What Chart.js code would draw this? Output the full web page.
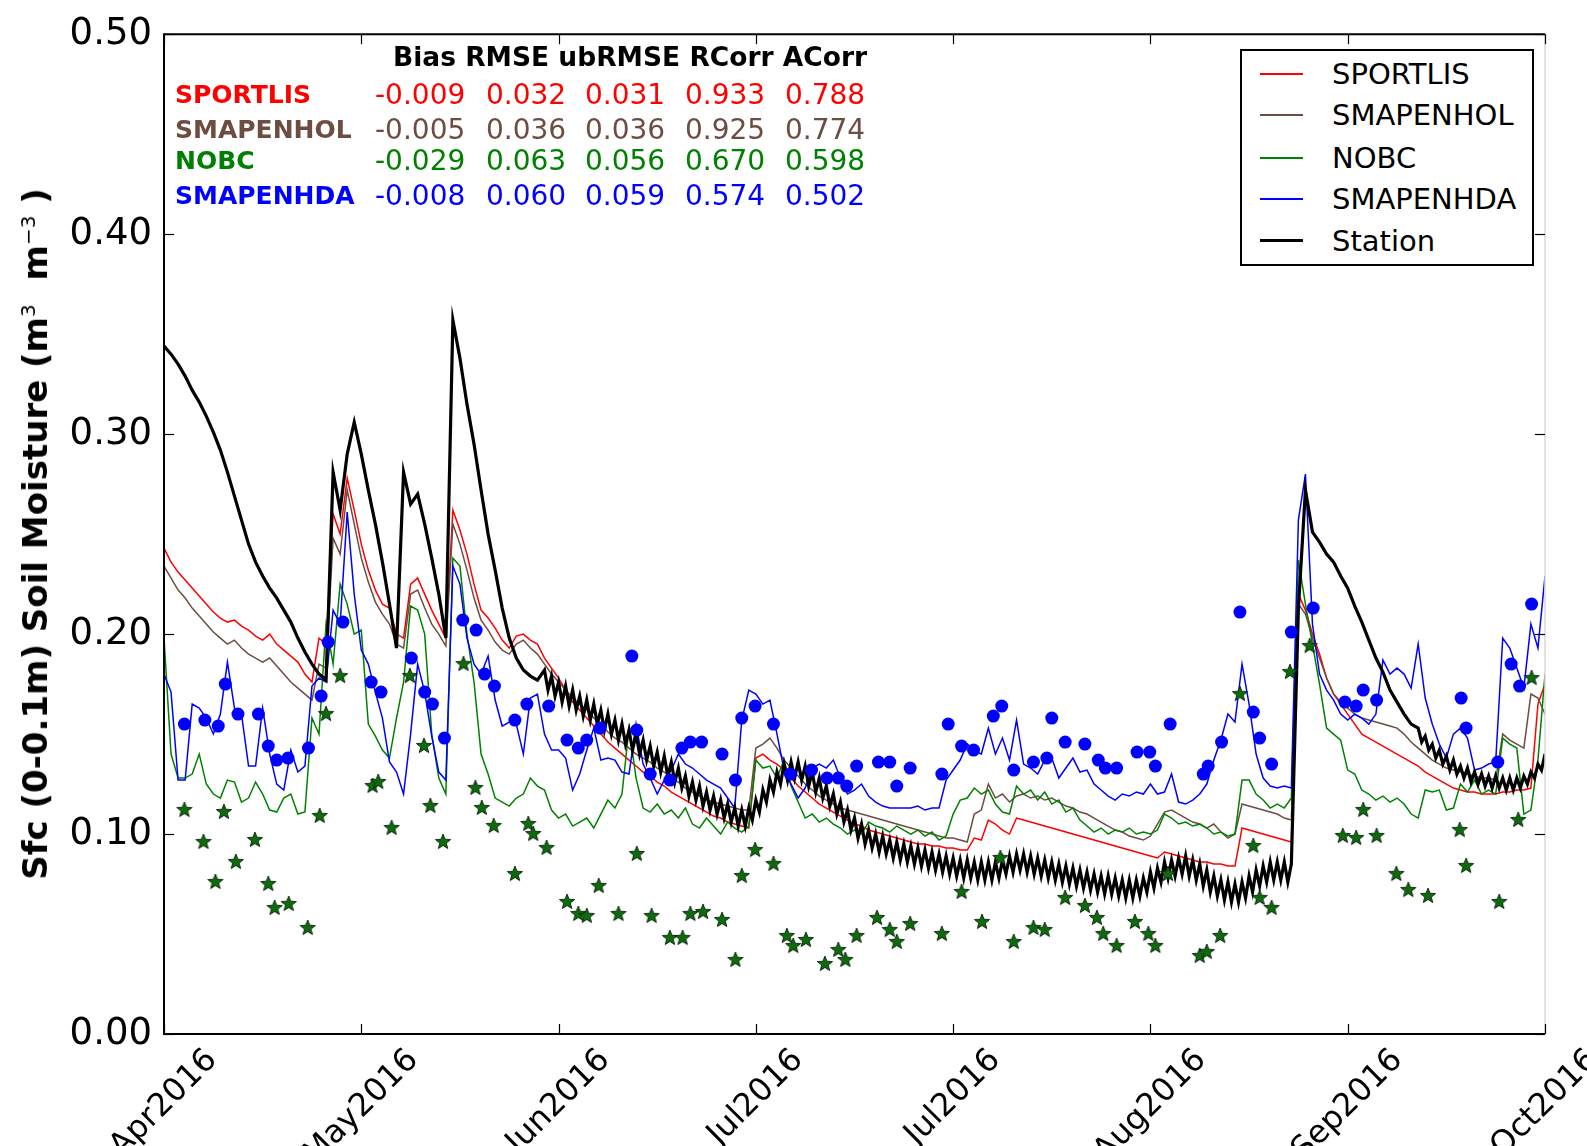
<!DOCTYPE html>
<html>
<head>
<meta charset="utf-8">
<script src="https://cdn.jsdelivr.net/npm/chart.js@4.4.1/dist/chart.umd.min.js"></script>
<style>
  body { margin: 0; background: #fff; font-family: "DejaVu Sans", sans-serif; }
  #wrap { position: relative; width: 1587px; height: 1146px; overflow: hidden; }
  #c { position: absolute; left: 0; top: 0; }
  .t { position: absolute; white-space: nowrap; line-height: 1; transform: translateY(-50%); }
  #ytitle {
    position: absolute; left: 35px; top: 534px; white-space: nowrap;
    transform: translate(-50%, -50%) rotate(-90deg);
    font: bold 34px "DejaVu Sans", sans-serif; color: #000;
  }
  #ytitle sup { font-size: 20px; font-weight: normal; }
  #legend {
    position: absolute; left: 1240px; top: 49px; width: 294px; height: 217px;
    box-sizing: border-box; border: 2px solid #000; background: #fff;
  }
  .lrow { position: absolute; left: 0; height: 0; }
  .lline { position: absolute; left: 18px; width: 43px; }
  .ltext { position: absolute; left: 90px; font-size: 29px; line-height: 1; transform: translateY(-50%); white-space: nowrap; }
</style>
</head>
<body>
<div id="wrap">
  <canvas id="c" width="1587" height="1146"></canvas>
  <div id="ytitle">Sfc (0-0.1m) Soil Moisture (m<sup>3</sup>&nbsp; m<sup>&minus;3</sup>&nbsp;)</div>
  <div id="stats"></div>
  <div id="legend"></div>
</div>
<script>
// x axis: days since start, ticks every 28 days
const xTickDays = [0, 28, 56, 84, 112, 140, 168, 196];
const xTickLabels = ["Apr2016", "May2016", "Jun2016", "Jul2016", "Jul2016", "Aug2016", "Sep2016", "Oct2016"];
const yTickVals = [0, 0.1, 0.2, 0.3, 0.4, 0.5];

// daily values, day 0 .. 196
const sportlis = [
  .243,.236,.231,.227,.223,.219,.215,.211,.208,.206,
  .207,.204,.202,.199,.197,.200,.195,.192,.189,.186,
  .180,.176,.198,.195,.260,.250,.278,.262,.245,.232,
  .222,.215,.213,.200,.198,.225,.228,.220,.212,.205,
  .198,.262,.252,.240,.225,.212,.208,.203,.197,.193,
  .199,.200,.197,.195,.188,.183,.178,.172,.166,.162,
  .158,.154,.150,.146,.143,.140,.137,.134,.131,.129,
  .126,.124,.121,.119,.117,.115,.113,.111,.109,.108,
  .106,.105,.104,.103,.138,.140,.137,.135,.132,.128,
  .124,.121,.118,.115,.113,.111,.109,.107,.105,.104,
  .102,.101,.100,.099,.098,.097,.096,.095,.095,.094,
  .094,.093,.093,.092,.092,.098,.097,.107,.105,.102,
  .100,.108,.107,.106,.105,.104,.103,.102,.101,.100,
  .099,.098,.097,.096,.095,.094,.093,.092,.091,.090,
  .089,.088,.091,.090,.089,.088,.087,.086,.086,.085,
  .085,.084,.084,.103,.102,.101,.100,.099,.098,.097,
  .096,.220,.212,.200,.190,.178,.170,.165,.160,.155,
  .150,.148,.146,.144,.142,.140,.138,.136,.134,.131,
  .129,.127,.125,.123,.122,.121,.121,.120,.120,.120,
  .121,.121,.122,.122,.123,.165,.175
];
const smapenhol = [
  .234,.228,.222,.218,.213,.209,.205,.201,.198,.195,
  .197,.193,.190,.188,.186,.188,.184,.180,.176,.173,
  .170,.167,.185,.183,.248,.240,.272,.255,.238,.226,
  .216,.210,.205,.195,.193,.220,.222,.213,.205,.200,
  .194,.255,.245,.232,.218,.207,.202,.196,.192,.190,
  .195,.197,.193,.190,.185,.180,.176,.172,.168,.165,
  .162,.158,.155,.151,.148,.146,.143,.140,.138,.136,
  .133,.131,.128,.126,.123,.121,.119,.117,.116,.115,
  .114,.113,.112,.112,.143,.145,.148,.143,.137,.133,
  .129,.125,.122,.119,.117,.115,.113,.112,.111,.110,
  .109,.108,.107,.106,.105,.104,.103,.102,.101,.100,
  .099,.098,.098,.097,.096,.110,.112,.125,.118,.120,
  .116,.119,.120,.118,.119,.117,.118,.116,.114,.113,
  .111,.110,.108,.106,.104,.102,.101,.099,.098,.097,
  .099,.105,.111,.112,.110,.108,.106,.105,.103,.105,
  .101,.098,.100,.115,.114,.113,.112,.111,.110,.108,
  .107,.215,.210,.198,.188,.178,.170,.166,.163,.160,
  .158,.157,.156,.155,.154,.153,.150,.146,.143,.140,
  .137,.135,.133,.132,.131,.130,.129,.128,.128,.127,
  .150,.147,.145,.143,.170,.168,.160
];
const nobc = [
  .198,.140,.128,.128,.130,.140,.125,.120,.118,.127,
  .126,.116,.118,.126,.120,.112,.111,.118,.120,.110,
  .111,.158,.150,.205,.185,.225,.215,.200,.202,.155,
  .149,.142,.138,.158,.176,.214,.212,.200,.150,.128,
  .120,.238,.234,.200,.176,.140,.130,.118,.116,.114,
  .118,.120,.128,.124,.122,.112,.108,.110,.104,.106,
  .108,.103,.110,.117,.113,.120,.153,.128,.113,.111,
  .115,.110,.112,.108,.113,.105,.103,.108,.104,.100,
  .106,.103,.101,.104,.137,.133,.134,.128,.137,.124,
  .116,.108,.110,.106,.108,.105,.103,.100,.102,.100,
  .106,.104,.103,.101,.104,.102,.100,.102,.099,.101,
  .097,.099,.110,.117,.118,.123,.120,.122,.115,.111,
  .110,.124,.120,.122,.117,.121,.115,.117,.111,.113,
  .107,.104,.101,.103,.100,.102,.101,.103,.100,.101,
  .100,.102,.110,.108,.105,.106,.104,.105,.103,.100,
  .101,.099,.100,.127,.127,.120,.117,.113,.115,.113,
  .118,.237,.215,.195,.175,.153,.150,.147,.132,.130,
  .122,.120,.117,.119,.116,.118,.115,.110,.108,.122,
  .121,.122,.112,.113,.125,.121,.127,.120,.122,.120,
  .148,.145,.143,.110,.112,.137,.180
];
const smapenhda = [
  .180,.171,.127,.127,.165,.163,.158,.150,.160,.186,
  .163,.160,.134,.134,.163,.140,.125,.122,.142,.131,
  .134,.174,.178,.176,.212,.205,.261,.220,.192,.185,
  .171,.158,.136,.131,.120,.150,.185,.171,.149,.131,
  .127,.234,.225,.198,.185,.180,.189,.167,.154,.156,
  .155,.140,.168,.170,.150,.142,.142,.138,.122,.130,
  .142,.153,.137,.138,.137,.131,.130,.155,.135,.128,
  .120,.127,.132,.140,.135,.133,.130,.127,.125,.123,
  .118,.113,.157,.172,.170,.165,.167,.150,.132,.125,
  .118,.123,.133,.135,.133,.137,.128,.120,.122,.125,
  .119,.116,.114,.113,.113,.113,.113,.114,.112,.113,
  .113,.127,.132,.137,.145,.142,.140,.153,.140,.148,
  .137,.157,.135,.133,.130,.137,.138,.128,.133,.138,
  .131,.132,.125,.122,.119,.117,.120,.119,.121,.120,
  .125,.120,.121,.130,.116,.115,.117,.120,.125,.137,
  .147,.160,.156,.185,.165,.140,.128,.124,.123,.124,
  .123,.257,.280,.205,.180,.172,.167,.160,.157,.160,
  .158,.155,.160,.187,.180,.183,.180,.173,.195,.168,
  .155,.145,.138,.150,.153,.148,.132,.133,.135,.136,
  .198,.193,.183,.173,.205,.193,.229
];
// station: daily (daytime) readings, day 0 .. 196
const stationDay = [
  .344,.340,.335,.329,.322,.316,.309,.301,.292,.281,
  .269,.257,.245,.236,.229,.223,.218,.212,.206,.198,
  .191,.185,.180,.177,.281,.262,.290,.306,.290,.272,
  .255,.236,.215,.193,.281,.265,.270,.255,.238,.220,
  .198,.357,.338,.315,.295,.272,.250,.232,.213,.198,
  .188,.182,.179,.177,.182,.179,.176,.174,.172,.169,
  .167,.165,.162,.160,.157,.155,.152,.150,.147,.144,
  .141,.139,.136,.133,.129,.126,.124,.121,.119,.117,
  .115,.113,.112,.113,.117,.122,.127,.131,.135,.136,
  .136,.134,.131,.128,.124,.120,.116,.112,.108,.105,
  .102,.100,.099,.097,.096,.095,.094,.093,.092,.091,
  .090,.089,.088,.087,.087,.086,.086,.086,.086,.087,
  .089,.090,.090,.089,.088,.087,.086,.085,.084,.083,
  .082,.081,.080,.079,.079,.078,.077,.077,.077,.078,
  .081,.083,.086,.087,.088,.089,.087,.085,.082,.079,
  .077,.076,.075,.076,.079,.082,.084,.086,.086,.086,
  .085,.213,.272,.251,.246,.240,.236,.229,.223,.214,
  .206,.197,.188,.181,.172,.166,.160,.155,.153,.149,
  .145,.142,.139,.137,.134,.133,.131,.130,.129,.129,
  .128,.128,.128,.129,.131,.135,.140
];
// station: half-day (night) readings, day 54.5 .. 195.5 (null = none)
const stationNightStart = 54.5;
const stationNight = [
  .172,.169,.166,.164,.162,.159,.157,.155,.152,.150,
  .147,.145,.142,.140,.137,.134,.131,.129,.126,.123,
  .119,.117,.114,.112,.110,.108,.106,.104,.104,.107,
  .111,.116,.121,.125,.127,.128,.127,.124,.121,.118,
  .114,.110,.106,.102,.098,.095,.093,.091,.090,.088,
  .087,.086,.085,.084,.083,.082,.081,.080,.079,.078,
  .078,.077,.077,.077,.078,.080,.081,.082,.081,.080,
  .079,.078,.077,.076,.075,.074,.073,.072,.071,.070,
  .070,.069,.068,.068,.069,.071,.073,.076,.078,.079,
  .080,.079,.077,.074,.071,.069,.067,.066,.066,.068,
  .071,.074,.076,.077,.077,.076,
  null,null,null,null,null,null,null,null,null,null,null,null,null,null,null,null,null,null,
  .146,.142,.138,.135,.132,.130,.128,.126,.125,.124,.123,.123,.122,.122,.123,.125,.128,.132
];

// blue circles (retrievals)
const obsDays = [2.9,5.8,7.7,8.7,10.5,13.4,14.8,16,17.6,20.5,22.3,23.3,25.4,29.4,30.8,35.1,37,38.1,39.8,42.4,
  44.3,45.5,46.9,49.8,51.5,54.6,57.2,58.8,60,61.9,66.4,67.1,69,71.8,73.5,74.7,76.3,79.2,81.1,82,
  83.9,86.5,88.9,91.9,94.1,95.7,96.9,98.3,101.4,103,104,105.9,110.4,111.3,113.2,114.9,117.7,118.9,120.6,123.4,
  125.3,126,127.9,130.7,132.6,133.6,135.2,138.1,139.9,140.7,142.8,147.5,148.2,150.1,152.7,154.6,155.5,157.2,160,163.1,
  167.6,169.2,170.2,172.1,184.1,184.8,189.3,191.2,192.4,194.1];
const obsVals = [.155,.157,.154,.175,.160,.160,.144,.137,.138,.143,.169,.196,.206,.176,.171,.188,.171,.165,.148,.207,
  .202,.180,.174,.157,.165,.164,.147,.143,.147,.153,.189,.152,.130,.127,.143,.146,.146,.140,.127,.158,
  .164,.155,.130,.132,.128,.128,.124,.134,.136,.136,.124,.133,.130,.155,.144,.142,.159,.164,.132,.136,
  .138,.158,.146,.145,.137,.133,.133,.141,.141,.134,.155,.130,.134,.146,.211,.161,.148,.135,.201,.213,
  .166,.164,.172,.167,.168,.153,.136,.185,.174,.215];

// green stars
const starDays = [2.9,5.6,7.3,8.5,10.2,12.9,14.8,15.7,17.7,20.4,22.1,23,25,29.6,30.4,32.3,34.9,36.9,37.8,39.6,
  42.5,44.2,45.1,46.8,49.8,51.7,52.4,54.3,57.2,58.8,60,61.7,64.5,67.1,69.2,71.8,73.6,74.7,76.5,79.2,
  81.1,82,83.9,86.5,88.4,89.3,91.1,93.8,95.7,96.7,98.3,101.2,103,104,105.9,110.4,113.2,116.1,118.7,120.6,
  123.4,125,127.9,130.7,132.4,133.3,135.2,137.8,139.7,140.7,142.5,147,148,149.9,152.7,154.6,155.5,157.2,159.8,162.6,
  167.3,169.2,170.2,172.1,174.9,176.6,179.4,183.9,184.8,189.5,192.2,194.1];
const starVals = [.112,.096,.076,.111,.086,.097,.075,.063,.065,.053,.109,.160,.179,.124,.126,.103,.179,.144,.114,.096,
  .185,.123,.113,.104,.080,.105,.100,.093,.066,.060,.059,.074,.060,.090,.059,.048,.048,.060,.061,.057,
  .037,.079,.092,.085,.049,.044,.047,.035,.042,.037,.049,.058,.052,.046,.055,.050,.071,.056,.088,.046,
  .053,.052,.068,.064,.058,.050,.044,.056,.050,.044,.080,.039,.041,.049,.170,.094,.068,.063,.181,.194,
  .099,.098,.112,.099,.080,.072,.069,.102,.084,.066,.107,.178];

// statistics table
const statNames = ["SPORTLIS", "SMAPENHOL", "NOBC", "SMAPENHDA"];
const statBias = [-0.009, -0.005, -0.029, -0.008];
const statRMSE = [0.032, 0.036, 0.063, 0.060];
const statUbRMSE = [0.031, 0.036, 0.056, 0.059];
const statRCorr = [0.933, 0.925, 0.670, 0.574];
const statACorr = [0.788, 0.774, 0.598, 0.502];

const colors = { SPORTLIS: "#ff0000", SMAPENHOL: "#6d4c41", NOBC: "#008000", SMAPENHDA: "#0000ff", Station: "#000000" };

function series(vals) {
  return vals.map((v, i) => ({ x: i, y: v }));
}
function pairs(xs, ys) {
  return xs.map((d, i) => ({ x: d, y: ys[i] }));
}
// merge day and night station readings in time order
function stationSeries() {
  const pts = series(stationDay);
  stationNight.forEach((v, i) => {
    if (v !== null) pts.push({ x: stationNightStart + i, y: v });
  });
  return pts.sort((a, b) => a.x - b.x);
}

// filled five-point star for the scatter
const starImg = document.createElement("canvas");
starImg.width = 18; starImg.height = 18;
(function () {
  const g = starImg.getContext("2d");
  g.beginPath();
  for (let k = 0; k < 10; k++) {
    const r = k % 2 === 0 ? 8 : 3.4;
    const a = -Math.PI / 2 + k * Math.PI / 5;
    g.lineTo(9 + r * Math.cos(a), 9 + r * Math.sin(a));
  }
  g.closePath();
  g.fillStyle = "#0d6b0d";
  g.fill();
  g.strokeStyle = "#0b2a0b";
  g.lineWidth = 1;
  g.stroke();
})();

// frame, inward ticks and rotated date labels
const framePlugin = {
  id: "frame",
  afterDraw(chart) {
    const { ctx, chartArea: a, scales: { x, y } } = chart;
    ctx.save();
    const line = (x1, y1, x2, y2) => { ctx.beginPath(); ctx.moveTo(x1, y1); ctx.lineTo(x2, y2); ctx.stroke(); };
    ctx.strokeStyle = "#d9d9d9"; ctx.lineWidth = 1.5;
    line(a.right, a.top, a.right, a.bottom);
    ctx.strokeStyle = "#000"; ctx.lineWidth = 2;
    line(a.left, a.top, a.right, a.top);
    line(a.left, a.top - 1, a.left, a.bottom + 1);
    line(a.left, a.bottom, a.right, a.bottom);
    ctx.lineWidth = 1.2;
    yTickVals.forEach(v => {
      const py = Math.round(y.getPixelForValue(v)) + 0.5;
      line(a.left, py, a.left + 10, py);
      line(a.right - 10, py, a.right, py);
    });
    xTickDays.forEach(d => {
      const px = Math.round(x.getPixelForValue(d)) + 0.5;
      line(px, a.bottom, px, a.bottom - 10);
      line(px, a.top, px, a.top + 10);
    });
    ctx.fillStyle = "#000";
    ctx.font = '32px "DejaVu Sans"';
    ctx.textAlign = "center";
    ctx.textBaseline = "middle";
    xTickDays.forEach((d, i) => {
      const px = x.getPixelForValue(d);
      const w = ctx.measureText(xTickLabels[i]).width;
      const cy = a.bottom + 10 + (w + 32) * 0.3536;
      ctx.save();
      ctx.translate(px, cy);
      ctx.rotate(-Math.PI / 4);
      ctx.fillText(xTickLabels[i], 0, 0);
      ctx.restore();
    });
    ctx.restore();
  }
};

Chart.defaults.font.family = '"DejaVu Sans", sans-serif';
Chart.defaults.color = "#000";

new Chart(document.getElementById("c"), {
  type: "line",
  data: {
    datasets: [
      { label: "obs", type: "scatter", data: pairs(obsDays, obsVals), pointRadius: 6.5, pointHoverRadius: 6.5,
        backgroundColor: "#0000ff", borderWidth: 0, order: 0 },
      { label: "stars", type: "scatter", data: pairs(starDays, starVals), pointStyle: starImg, pointRadius: 9,
        order: 0 },
      { label: "Station", data: stationSeries(), borderColor: colors.Station, borderWidth: 3.2, pointRadius: 0, order: 1 },
      { label: "SMAPENHDA", data: series(smapenhda), borderColor: colors.SMAPENHDA, borderWidth: 1.5, pointRadius: 0, order: 2 },
      { label: "NOBC", data: series(nobc), borderColor: colors.NOBC, borderWidth: 1.5, pointRadius: 0, order: 3 },
      { label: "SMAPENHOL", data: series(smapenhol), borderColor: colors.SMAPENHOL, borderWidth: 1.5, pointRadius: 0, order: 4 },
      { label: "SPORTLIS", data: series(sportlis), borderColor: colors.SPORTLIS, borderWidth: 1.5, pointRadius: 0, order: 5 }
    ]
  },
  options: {
    responsive: false,
    animation: false,
    layout: { padding: { left: 0, right: 42, top: 33, bottom: 0 } },
    plugins: { legend: { display: false }, tooltip: { enabled: false } },
    elements: { line: { tension: 0 } },
    scales: {
      x: {
        type: "linear", min: 0, max: 196,
        ticks: { display: false },
        grid: { display: false, drawTicks: false },
        border: { display: false },
        afterFit(s) { s.height = 112; }
      },
      y: {
        min: 0, max: 0.5,
        ticks: { stepSize: 0.1, padding: 12, font: { size: 37 }, color: "#000",
          callback: v => v.toFixed(2) },
        grid: { display: false, drawTicks: false },
        border: { display: false },
        afterFit(s) { s.width = 164; }
      }
    }
  },
  plugins: [framePlugin]
});

// stats table
(function () {
  const box = document.getElementById("stats");
  const add = (txt, left, cy, css) => {
    const d = document.createElement("div");
    d.className = "t";
    d.textContent = txt;
    d.style.left = left + "px";
    d.style.top = cy + "px";
    Object.assign(d.style, css);
    box.appendChild(d);
  };
  add("Bias RMSE ubRMSE RCorr ACorr", 393, 56, { font: 'bold 26.5px "DejaVu Sans"', color: "#000" });
  const rowY = [94, 128.5, 160, 195];
  const colX = [375, 486, 585, 685, 785];
  statNames.forEach((n, i) => {
    const c = colors[n];
    add(n, 175, rowY[i], { font: 'bold 25px "DejaVu Sans"', color: c });
    [statBias[i], statRMSE[i], statUbRMSE[i], statRCorr[i], statACorr[i]].forEach((v, j) => {
      add(v.toFixed(3), colX[j], rowY[i], { font: '28px "DejaVu Sans"', color: c });
    });
  });
})();

// legend
(function () {
  const lg = document.getElementById("legend");
  const names = ["SPORTLIS", "SMAPENHOL", "NOBC", "SMAPENHDA", "Station"];
  const rows = [23, 64, 107, 148, 190];
  names.forEach((n, i) => {
    const r = document.createElement("div");
    r.className = "lrow";
    r.style.top = rows[i] + "px";
    const w = n === "Station" ? 3 : 2;
    r.innerHTML = '<div class="lline" style="top:' + (-Math.round(w / 2)) + 'px;height:' + w + 'px;background:' + colors[n] + '"></div>' +
      '<div class="ltext">' + n + '</div>';
    lg.appendChild(r);
  });
})();
</script>
</body>
</html>
